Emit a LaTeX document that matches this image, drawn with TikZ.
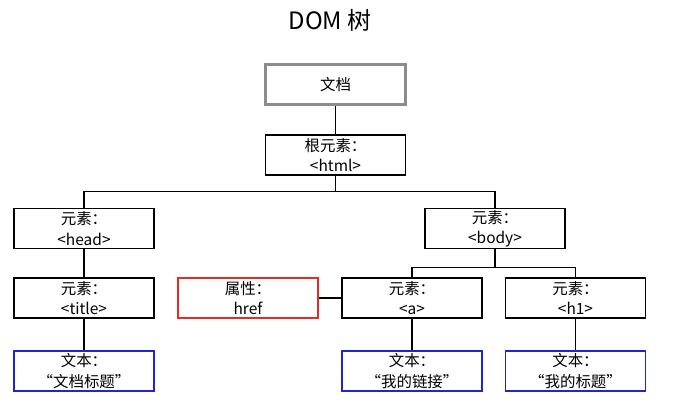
\documentclass[tikz,border=0pt]{standalone}
\usepackage{fontspec}
\setmainfont{Noto Sans CJK SC}
\usetikzlibrary{calc}

\definecolor{boxred}{RGB}{225,45,35}
\definecolor{boxblue}{RGB}{30,35,220}
\definecolor{boxgray}{RGB}{140,140,140}

\tikzset{
  box/.style={draw, line width=0.9pt, minimum width=3.5cm, minimum height=1cm,
    inner sep=1pt, align=center, font=\fontsize{11}{14.5}\selectfont},
  docbox/.style={box, draw=boxgray, line width=1.5pt},
  attrbox/.style={box, draw=boxred},
  textbox/.style={box, draw=boxblue},
  link/.style={draw, line width=0.9pt},
}

\begin{document}
\begin{tikzpicture}[x=0.025cm, y=-0.025cm]
    \useasboundingbox (0,0) rectangle (678,402);
    % title
    \node (title) at (330,20) {\fontsize{17}{20}\selectfont DOM 树};
    % root
    \node[docbox] (doc) at (335.5,84.5) {文档};
    \node[box] (html) at (335.5,155) {根元素：\\<html>};
    % head branch
    \node[box] (head) at (84,228.5) {元素：\\<head>};
    \node[box] (tit) at (84,298) {元素：\\<title>};
    \node[textbox] (tittext) at (84,371) {文本：\\“文档标题”};
    % body branch
    \node[box] (body) at (495,228.5) {元素：\\<body>};
    \node[box] (a) at (412,298) {元素：\\<a>};
    \node[box] (h1) at (575.5,298) {元素：\\<h1>};
    \node[textbox] (atext) at (412,371) {文本：\\“我的链接”};
    \node[textbox] (h1text) at (575.5,371) {文本：\\“我的标题”};
    \node[attrbox] (href) at (248,298) {属性：\\href};
    % buses (y grows downwards)
    \coordinate (bus1) at ($(html.south)+(0,15.5)$);
    \coordinate (bus2) at ($(body.south)+(0,18)$);
    % connectors
    \path[link](doc)to(html);
    \path[link](html.south)to(bus1)-|(head.north);
    \path[link](html.south)to(bus1)-|(body.north);
    \path[link](head)to(tit);
    \path[link](tit)to(tittext);
    \path[link](body.south)to(bus2)-|(a.north);
    \path[link](body.south)to(bus2)-|(h1.north);
    \path[link](a)to(atext);
    \path[link](h1)to(h1text);
    \path[link](href)to(a);
\end{tikzpicture}
\end{document}
